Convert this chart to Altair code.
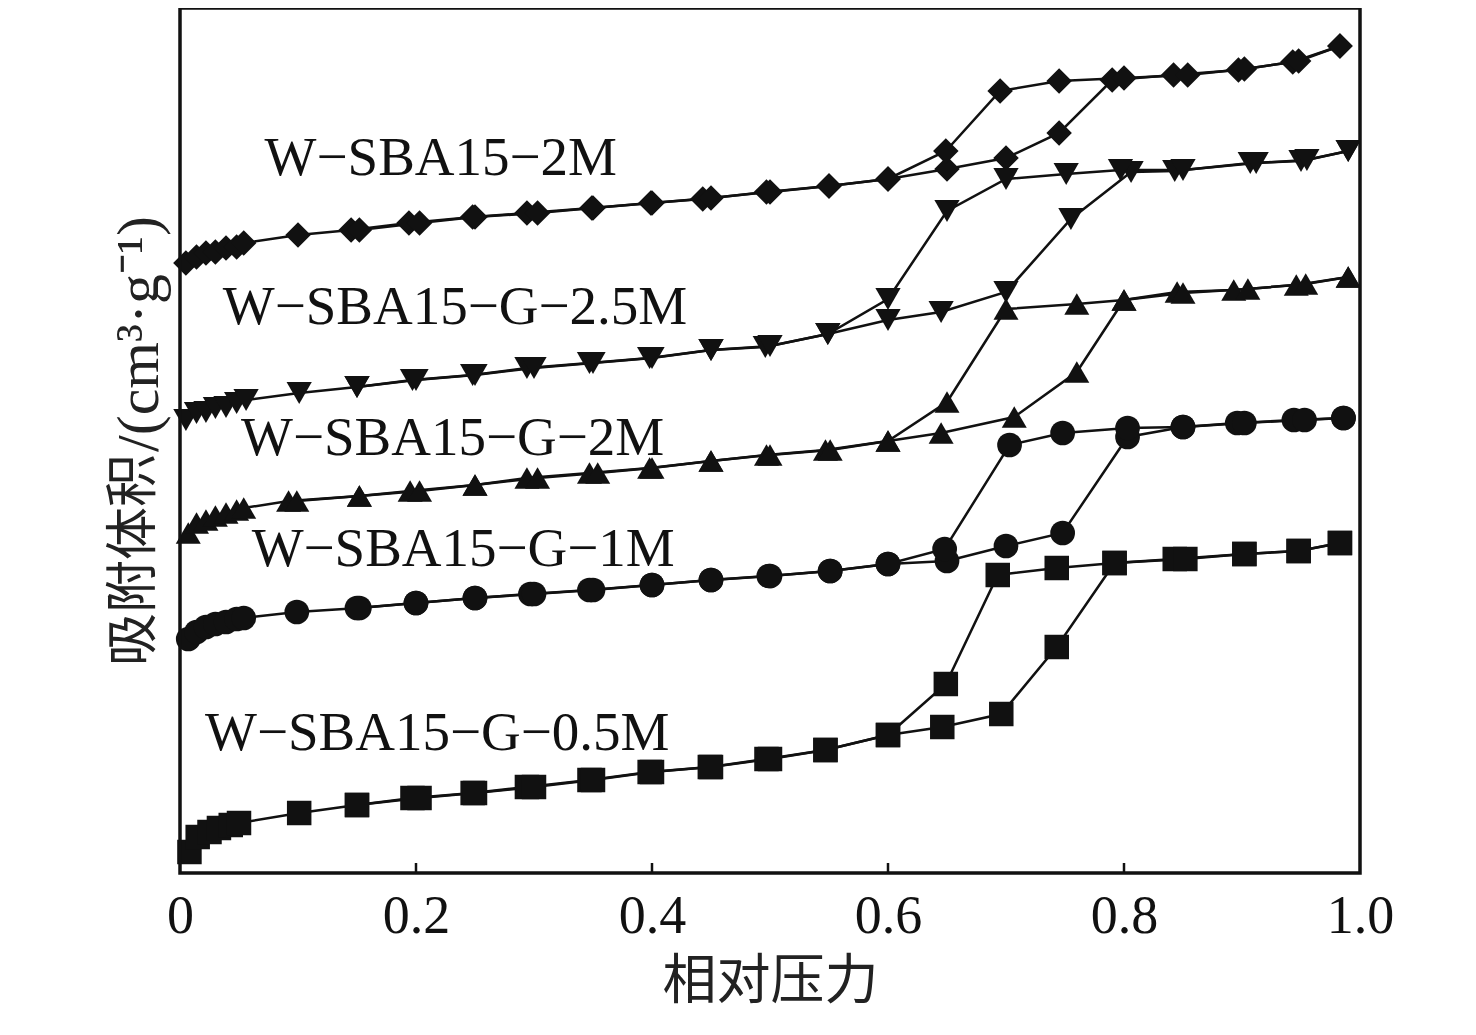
import altair as alt
import pandas as pd

series_names = ["W−SBA15−2M", "W−SBA15−G−2.5M", "W−SBA15−G−2M", "W−SBA15−G−1M", "W−SBA15−G−0.5M"]
shapes = ["diamond", "triangle-down", "triangle-up", "circle", "square"]
sizes = [650, 600, 600, 420, 360]

# W-SBA15-2M
d1_ads_x = [0.005,0.014,0.022,0.03,0.039,0.048,0.054,0.1,0.145,0.194,0.248,0.294,0.349,0.399,0.443,0.497,0.55,0.6,0.65,0.70,0.745,0.79,0.842,0.897,0.943,0.983]
d1_ads_v = [610,616,620,621,625,626,630,638,643,650,656,660,665,670,674,681,687,694,704,715,740,793,798,803,811,827]
d1_des_x = [0.983,0.948,0.902,0.854,0.80,0.745,0.695,0.649,0.6,0.55,0.5,0.45,0.4,0.35,0.303,0.25,0.203,0.152]
d1_des_v = [827,812,804,798,795,792,782,722,694,687,681,675,670,665,660,656,650,643]

# W-SBA15-G-2.5M
d2_ads_x = [0.005,0.014,0.022,0.03,0.039,0.048,0.056,0.101,0.15,0.197,0.248,0.294,0.347,0.398,0.45,0.496,0.549,0.6,0.645,0.70,0.755,0.806,0.843,0.907,0.95,0.99]
d2_ads_v = [453,460,461,465,466,470,473,480,486,493,498,505,510,515,523,526,539,553,561,581,654,701,702,710,712,722]
d2_des_x = [0.99,0.955,0.912,0.85,0.797,0.751,0.70,0.65,0.6,0.549,0.5,0.45,0.4,0.35,0.3,0.25,0.2,0.15]
d2_des_v = [722,713,710,703,703,699,694,662,574,539,527,523,515,510,505,498,493,486]

# W-SBA15-G-2M
d3_ads_x = [0.007,0.014,0.022,0.03,0.039,0.048,0.054,0.092,0.152,0.195,0.25,0.294,0.347,0.398,0.45,0.497,0.547,0.6,0.645,0.707,0.76,0.80,0.845,0.893,0.946,0.99]
d3_ads_v = [340,350,353,357,360,363,365,372,377,382,388,395,400,405,412,418,423,432,440,456,501,573,581,583,588,596]
d3_des_x = [0.99,0.954,0.905,0.85,0.80,0.76,0.70,0.65,0.6,0.551,0.5,0.45,0.4,0.354,0.303,0.25,0.203,0.152,0.099]
d3_des_v = [596,589,584,580,573,569,564,471,432,423,418,412,405,400,395,388,382,377,372]

# W-SBA15-G-1M
d4_ads_x = [0.007,0.014,0.022,0.03,0.039,0.048,0.054,0.099,0.152,0.2,0.25,0.297,0.347,0.4,0.45,0.499,0.551,0.6,0.65,0.70,0.748,0.803,0.85,0.896,0.944,0.986]
d4_ads_v = [234,241,246,249,251,254,255,261,265,270,275,279,283,288,293,297,302,309,312,327,340,436,446,450,453,455]
d4_des_x = [0.986,0.953,0.902,0.85,0.803,0.748,0.703,0.648,0.6,0.551,0.5,0.45,0.4,0.35,0.3,0.25,0.2,0.15]
d4_des_v = [455,453,450,446,445,440,428,324,309,302,297,293,288,283,279,275,270,265]

# W-SBA15-G-0.5M
d5_ads_x = [0.008,0.015,0.025,0.033,0.043,0.05,0.101,0.15,0.197,0.248,0.294,0.347,0.398,0.449,0.497,0.547,0.6,0.646,0.696,0.743,0.792,0.843,0.902,0.948,0.983]
d5_ads_v = [21,36,41,45,48,50,60,68,75,80,86,93,101,106,114,123,138,146,159,226,310,314,319,322,330]
d5_des_x = [0.983,0.948,0.902,0.852,0.792,0.743,0.693,0.649,0.6,0.547,0.5,0.45,0.4,0.35,0.3,0.25,0.203,0.15]
d5_des_v = [330,322,319,314,310,305,298,189,138,123,114,106,101,93,86,80,75,68]

label_x = [0.221, 0.233, 0.231, 0.240, 0.218]
label_v = [715, 566, 435, 324, 140]

tick_values = [0, 0.2, 0.4, 0.6, 0.8, 1.0]
inner_ticks = [0.2, 0.4, 0.6, 0.8]

x_title = "相对压力"
y_title_cjk = "吸附体积"
y_title_latin = "/(cm³·g⁻¹)"

W, H = 1180, 865

all_data = [
    (d1_ads_x, d1_ads_v, d1_des_x, d1_des_v),
    (d2_ads_x, d2_ads_v, d2_des_x, d2_des_v),
    (d3_ads_x, d3_ads_v, d3_des_x, d3_des_v),
    (d4_ads_x, d4_ads_v, d4_des_x, d4_des_v),
    (d5_ads_x, d5_ads_v, d5_des_x, d5_des_v),
]

rows = []
for name, (ax, av, dx, dv) in zip(series_names, all_data):
    for i, (x, v) in enumerate(zip(ax, av)):
        rows.append({"series": name, "branch": name + "-ads", "idx": i, "p": x, "v": v})
    for i, (x, v) in enumerate(zip(dx, dv)):
        rows.append({"series": name, "branch": name + "-des", "idx": i, "p": x, "v": v})
df = pd.DataFrame(rows)

labels_df = pd.DataFrame({"text": series_names, "p": label_x, "v": label_v})
ticks_df = pd.DataFrame({"p": inner_ticks, "v0": [0] * 4, "v1": [10] * 4})
one = pd.DataFrame({"a": [0]})

xscale = alt.Scale(domain=[0, 1], nice=False, zero=False)
yscale = alt.Scale(domain=[0, H], nice=False, zero=False)

xaxis = alt.Axis(
    values=tick_values, grid=False, ticks=False, domain=False,
    labelExpr="datum.value == 0 ? '0' : format(datum.value, '.1f')",
    labelFont="Liberation Serif", labelFontSize=54, labelColor="#111",
    labelPadding=16, labelFlush=False,
    title=x_title, titleFont="Noto Sans CJK SC", titleFontSize=54,
    titleFontWeight="normal", titleColor="#222", titlePadding=12,
)
yaxis = alt.Axis(labels=False, ticks=False, grid=False, domain=False, title=None)

lines = alt.Chart(df).mark_line(color="#111", strokeWidth=2.5).encode(
    x=alt.X("p:Q", scale=xscale, axis=xaxis),
    y=alt.Y("v:Q", scale=yscale, axis=yaxis),
    detail="branch:N",
    order="idx:Q",
)

points = alt.Chart(df).mark_point(filled=True, color="#111", opacity=1).encode(
    x=alt.X("p:Q", scale=xscale),
    y=alt.Y("v:Q", scale=yscale),
    shape=alt.Shape("series:N", scale=alt.Scale(domain=series_names, range=shapes), legend=None),
    size=alt.Size("series:N", scale=alt.Scale(domain=series_names, range=sizes), legend=None),
)

texts = alt.Chart(labels_df).mark_text(
    font="Liberation Serif", fontSize=55, color="#111", align="center", baseline="middle"
).encode(
    x=alt.X("p:Q", scale=xscale),
    y=alt.Y("v:Q", scale=yscale),
    text="text:N",
)

ticks = alt.Chart(ticks_df).mark_rule(color="#111", strokeWidth=2.5).encode(
    x=alt.X("p:Q", scale=xscale),
    y=alt.Y("v0:Q", scale=yscale),
    y2="v1:Q",
)

frame = alt.Chart(one).mark_rect(filled=False, stroke="#111", strokeWidth=3.5).encode(
    x=alt.value(0), x2=alt.value(W), y=alt.value(0), y2=alt.value(H),
)

ytitle_cjk = alt.Chart(pd.DataFrame({"t": [y_title_cjk]})).mark_text(
    font="Noto Sans CJK SC", fontSize=53, color="#222", angle=270,
    align="left", baseline="alphabetic",
).encode(x=alt.value(-29), y=alt.value(658), text="t:N")

ytitle_latin = alt.Chart(pd.DataFrame({"t": [y_title_latin]})).mark_text(
    font="Liberation Serif", fontSize=60, color="#222", angle=270,
    align="left", baseline="alphabetic",
).encode(x=alt.value(-22), y=alt.value(444), text="t:N")

chart = alt.layer(lines, points, texts, ticks, frame, ytitle_cjk, ytitle_latin).properties(
    width=W, height=H,
    padding={"left": 172, "top": 0, "right": 60, "bottom": 150},
    autosize=alt.AutoSizeParams(type="none"),
).configure_view(strokeWidth=0).configure(background="white")

chart.save("out.html", embed_options={"renderer": "svg", "actions": False})
